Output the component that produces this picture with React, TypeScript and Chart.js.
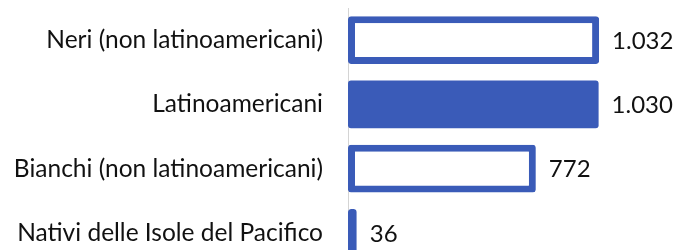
import React, { useEffect, useRef } from "react";
import { Chart, registerables } from "chart.js";

Chart.register(...registerables);

const categories = [
  "Neri (non latinoamericani)",
  "Latinoamericani",
  "Bianchi (non latinoamericani)",
  "Nativi delle Isole del Pacifico",
];
const values = [1032, 1030, 772, 36];
const fills = ["#ffffff", "#3a5bb8", "#ffffff", "#ffffff"];
const borders = [7, 0, 7, 7];

const BLUE = "#3a5bb8";

function fmt(v: number): string {
  return String(v).replace(/\B(?=(\d{3})+(?!\d))/g, ".");
}

const valueLabels = {
  id: "valueLabels",
  afterDatasetsDraw(chart: any) {
    const ctx = chart.ctx;
    const meta = chart.getDatasetMeta(0);
    ctx.save();
    ctx.font = "24px Lato";
    ctx.fillStyle = "#111111";
    ctx.textAlign = "left";
    ctx.textBaseline = "middle";
    meta.data.forEach((bar: any, i: number) => {
      ctx.fillText(fmt(values[i]), bar.x + 13, bar.y + 1);
    });
    ctx.restore();
  },
};

export default function App() {
  const ref = useRef<HTMLCanvasElement | null>(null);
  useEffect(() => {
    if (!ref.current) return;
    const chart = new Chart(ref.current, {
      type: "bar",
      data: {
        labels: categories,
        datasets: [
          {
            data: values,
            backgroundColor: fills,
            borderColor: BLUE,
            borderWidth: borders,
            borderRadius: 3,
            borderSkipped: false,
            categoryPercentage: 1,
            barPercentage: 0.74,
          },
        ],
      },
      options: {
        indexAxis: "y",
        animation: false,
        responsive: true,
        maintainAspectRatio: false,
        layout: { padding: 0 },
        plugins: {
          legend: { display: false },
          tooltip: { enabled: false },
        },
        scales: {
          x: {
            display: false,
            min: 0,
            max: 1344,
          },
          y: {
            afterFit: (scale: any) => {
              scale.width = 340;
              scale.paddingTop = 0;
              scale.paddingBottom = 0;
            },
            grid: { display: false, drawTicks: false },
            border: { display: true, color: "#d4d4d4", width: 1 },
            ticks: {
              padding: 25,
              color: "#111111",
              font: { family: "Lato", size: 24.5 },
            },
          },
        },
      },
      plugins: [valueLabels],
    });
    return () => chart.destroy();
  }, []);
  return (
    <div style={{ width: 667, height: 257 }}>
      <canvas ref={ref} />
    </div>
  );
}
